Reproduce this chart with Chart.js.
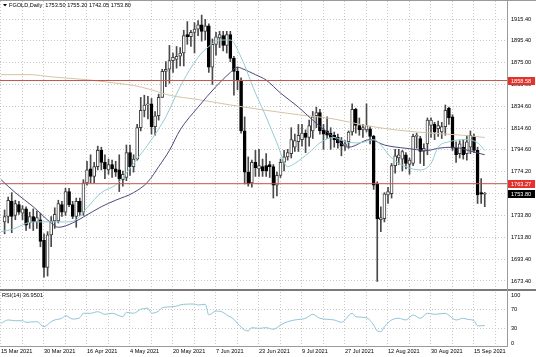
<!DOCTYPE html>
<html><head><meta charset="utf-8">
<script src="https://cdn.jsdelivr.net/npm/chart.js@4.4.1/dist/chart.umd.min.js"></script>
<style>html,body{margin:0;padding:0;background:#fff;overflow:hidden}canvas{display:block}</style>
</head><body>
<canvas id="c" width="536" height="357"></canvas>
<script>
// ---------- DATA ----------
const symbolName = 'FGOLD,Daily';
const dates = ['15 Mar','16 Mar','17 Mar','18 Mar','19 Mar','22 Mar','23 Mar','24 Mar','25 Mar','26 Mar','29 Mar','30 Mar','31 Mar',
'1 Apr','5 Apr','6 Apr','7 Apr','8 Apr','9 Apr','12 Apr','13 Apr','14 Apr','15 Apr','16 Apr','19 Apr','20 Apr','21 Apr','22 Apr','23 Apr','26 Apr','27 Apr','28 Apr','29 Apr','30 Apr',
'3 May','4 May','5 May','6 May','7 May','10 May','11 May','12 May','13 May','14 May','17 May','18 May','19 May','20 May','21 May','24 May','25 May','26 May','27 May','28 May','31 May',
'1 Jun','2 Jun','3 Jun','4 Jun','7 Jun','8 Jun','9 Jun','10 Jun','11 Jun','14 Jun','15 Jun','16 Jun','17 Jun','18 Jun','21 Jun','22 Jun','23 Jun','24 Jun','25 Jun','28 Jun','29 Jun','30 Jun',
'1 Jul','2 Jul','5 Jul','6 Jul','7 Jul','8 Jul','9 Jul','12 Jul','13 Jul','14 Jul','15 Jul','16 Jul','19 Jul','20 Jul','21 Jul','22 Jul','23 Jul','26 Jul','27 Jul','28 Jul','29 Jul','30 Jul',
'2 Aug','3 Aug','4 Aug','5 Aug','6 Aug','9 Aug','10 Aug','11 Aug','12 Aug','13 Aug','16 Aug','17 Aug','18 Aug','19 Aug','20 Aug','23 Aug','24 Aug','25 Aug','26 Aug','27 Aug','30 Aug','31 Aug',
'1 Sep','2 Sep','3 Sep','6 Sep','7 Sep','8 Sep','9 Sep','10 Sep','13 Sep','14 Sep','15 Sep','16 Sep','17 Sep','20 Sep'];
const year = '2021';

const open = [1728,1733,1747,1734,1744,1736,1740,1727,1733,1728,1730,1711,1686,
1716,1729,1729,1744,1737,1756,1744,1733,1747,1737,1764,1777,1770,1779,1794,1783,1776,1781,1777,1776,1767,
1769,1792,1779,1786,1815,1831,1836,1837,1816,1826,1843,1867,1869,1877,1878,1881,1884,1901,1899,1903,1906,
1910,1904,1909,1871,1892,1898,1900,1891,1901,1879,1867,1859,1812,1774,1764,1783,1777,1779,1780,1781,1779,1762,
1771,1783,1788,1791,1797,1802,1804,1810,1806,1812,1826,1829,1813,1812,1810,1808,1806,1803,1798,1802,1811,1832,
1817,1813,1813,1814,1807,1763,1730,1731,1753,1754,1780,1787,1786,1790,1781,1782,1807,1805,1793,1800,1817,1818,
1814,1811,1816,1833,1825,1796,1791,1797,1791,1797,1807,1794,1755,1753.50];
const high = [1739,1751,1755,1748,1747,1743,1742,1737,1740,1738,1736,1717,1719,
1733,1741,1748,1747,1759,1759,1747,1750,1750,1767,1784,1790,1783,1798,1797,1790,1786,1785,1784,1790,1775,
1799,1799,1790,1818,1843,1845,1844,1842,1830,1846,1869,1876,1891,1884,1890,1889,1905,1913,1905,1912,1914,
1919,1915,1911,1897,1903,1904,1904,1904,1904,1881,1871,1861,1825,1788,1785,1794,1795,1786,1791,1784,1781,1774,
1786,1794,1795,1815,1809,1818,1818,1813,1822,1830,1834,1832,1818,1825,1815,1811,1809,1806,1803,1812,1837,1833,
1824,1818,1837,1816,1808,1765,1742,1755,1760,1782,1795,1795,1794,1792,1787,1809,1810,1807,1800,1824,1824,1820,
1821,1820,1836,1834,1827,1802,1803,1804,1808,1812,1809,1797,1768,1755.20];
const low = [1717,1727,1718,1730,1735,1730,1720,1722,1720,1722,1705,1677,1678,
1705,1722,1727,1733,1734,1742,1731,1723,1734,1734,1762,1764,1764,1776,1776,1768,1772,1769,1770,1756,1761,
1766,1771,1774,1785,1812,1825,1823,1809,1808,1822,1843,1853,1856,1866,1870,1872,1872,1892,1890,1884,1900,
1895,1896,1866,1855,1882,1889,1886,1884,1876,1845,1850,1810,1763,1761,1760,1770,1770,1770,1770,1769,1750,1752,
1769,1775,1785,1787,1793,1793,1798,1792,1798,1805,1815,1809,1795,1805,1795,1797,1796,1789,1794,1796,1808,1810,
1808,1806,1811,1800,1758,1673,1719,1728,1745,1750,1773,1781,1775,1777,1772,1780,1796,1782,1780,1790,1806,1804,
1807,1805,1808,1818,1794,1783,1787,1786,1785,1791,1792,1745,1745,1742.05];
const close = [1733,1748,1733,1745,1737,1740,1725,1733,1728,1732,1710,1686,1716,
1729,1735,1745,1737,1756,1744,1733,1747,1737,1764,1776,1770,1779,1794,1783,1777,1781,1777,1774,1768,1772,
1792,1779,1786,1815,1831,1836,1837,1816,1826,1843,1867,1869,1877,1880,1881,1884,1900,1899,1903,1906,1910,
1904,1909,1871,1892,1899,1901,1891,1901,1879,1867,1859,1812,1774,1763,1783,1778,1780,1775,1775,1779,1762,1771,
1783,1788,1792,1804,1803,1808,1810,1806,1817,1825,1829,1812,1809,1808,1806,1804,1801,1798,1800,1811,1832,1817,
1813,1815,1817,1807,1762,1731,1732,1754,1756,1780,1789,1790,1793,1782,1785,1807,1808,1793,1796,1822,1822,1811,
1817,1816,1831,1824,1796,1790,1800,1790,1802,1808,1794,1753,1753.5,1753.80];

// moving averages (bar index, value)
const fastMaIdx = [-1,2,8,13,17,20,23,27,31,32,36,41,45,49,54,57,60,63,66,70,73,76,79,81,85,88,92,95,99,103,105,108,112,116,119,121,124,129,132,134];
const fastMaVal = [1719,1721,1728,1728,1728,1730,1741,1755,1762,1765,1782,1804,1825,1853,1880,1890,1896,1896,1880,1847,1825,1801,1779,1782,1792,1801,1806,1802,1801,1804,1799,1787,1779,1776,1782,1797,1802,1804,1801,1794];
const midMaIdx = [-1,3,8,13,15,19,22,27,31,36,40,43,46,49,54,59,63,65,66,70,73,77,82,87,92,96,102,106,112,118,121,125,131,134];
const midMaVal = [1767,1755,1742,1727,1723,1727,1732.5,1742,1748,1755,1765,1779,1794,1813,1834,1853,1866,1871,1870,1864,1859,1847,1834,1819,1806,1797,1804,1799,1796,1794,1796,1797,1792.5,1790];
const slowMaIdx = [-1,7,13,24,29,36,41,46,54,63,73,82,92,100,109,119,128,134];
const slowMaVal = [1864,1864,1862,1859,1857,1854,1850,1845,1841,1836,1831,1827,1823,1817.5,1813,1810,1808,1806];

// RSI(14)
const rsiIdx = [-1,1,3,5,6,9,11,13,14,16,17,19,21,22,24,26,28,30,33,34,36,38,40,41,43,44,47,50,53,54,56,57,59,61,62,64,65,67,68,69,71,73,75,77,79,81,84,86,88,92,94,97,98,101,103,104,105,106,108,110,112,114,116,118,120,123,124,126,128,129,131,132,133,134];
const rsiVal = [41.6,48.5,47,47,43.7,45,34.6,45,48.5,52,57.3,50.5,53.2,62.3,62.3,65.6,60.2,62.3,55.3,64.3,62.3,70.5,72.6,62.3,67,73.8,75.9,80.8,81.4,79.4,80.8,58.8,67,64.3,58.8,49.9,41.6,27.8,25.8,32.6,31.3,32.6,29.3,38.1,45,48.5,52,60.2,52,48.5,43.7,62.3,55.3,53.2,38.1,25.8,24.3,34.6,48.5,52,48.5,58.8,52,62.3,60.2,62.3,58,48.5,52,50,47,36.5,36.5,36.9501];

const levels = [1858.58, 1763.27];
const priceTicks = [1915.40,1895.40,1875.00,1855.00,1834.60,1814.60,1794.60,1774.20,1753.80,1733.80,1713.80,1693.40,1673.40];
const rsiTicks = [100,70,30,0];

// ---------- LAYOUT CONSTANTS ----------
const FONT = '"Liberation Sans", Arial, sans-serif';
const FS = 5.6;
const X_MIN = -1.279, X_MAX = 140.21;
const Y_MIN = 1665.08, Y_MAX = 1932.03;
const R_MIN = -5.15, R_MAX = 110.3;
const GRID = '#c8c8c8';

const n = close.length;
const up = close.map((c,i)=> c >= open[i]);
const wickData = high.map((h,i)=>({x:i, y:[low[i], h]}));
const bodyData = open.map((o,i)=>({x:i, y:[Math.min(o,close[i]), Math.max(o,close[i])]}));
const pts = (idx, val) => idx.map((x,k)=>({x, y: val[k]}));
const xTicks = [];
for (let v = -1; v <= X_MAX; v += 6) xTicks.push(v);

const noPad = s => { s.paddingTop = 0; s.paddingBottom = 0; s.paddingLeft = 0; s.paddingRight = 0; };

const deco = {
  id:'deco',
  beforeDraw(chart){
    const c = chart.ctx; c.save(); c.fillStyle='#fff'; c.fillRect(0,0,chart.width,chart.height); c.restore();
  },
  afterDraw(chart){
    const c = chart.ctx, a = chart.chartArea, ys = chart.scales.y;
    c.save();
    const sep = chart.scales.yR.top;
    c.fillStyle = '#7a7a7a'; c.fillRect(0, sep-1, chart.width, 2);
    c.fillStyle = '#9a9a9a';
    c.fillRect(0,0,chart.width,1);
    c.fillRect(a.right,0,1,a.bottom);
    c.fillRect(0,a.bottom,a.right+1,1);
    const boxes = [[levels[0],'#e2342c'],[levels[1],'#e2342c'],[close[n-1],'#000000']];
    c.font = FS+'px '+FONT; c.textBaseline='middle'; c.textAlign='left';
    boxes.forEach(([v,bg])=>{
      const y = Math.round(ys.getPixelForValue(v));
      c.fillStyle = bg; c.fillRect(a.right+1, y-4, 27, 8);
      c.fillStyle = '#fff'; c.fillText(v.toFixed(2), a.right+4, y);
    });
    c.fillStyle='#000';
    c.beginPath(); c.moveTo(3,4); c.lineTo(7,4); c.lineTo(5,6.5); c.closePath(); c.fill();
    c.fillText(symbolName+'  '+open[n-1].toFixed(2)+' '+high[n-1].toFixed(2)+' '+low[n-1].toFixed(2)+' '+close[n-1].toFixed(2), 9, 5.5);
    c.fillText('RSI(14) '+rsiVal[rsiVal.length-1].toFixed(4), 2, sep+5);
    c.restore();
  }
};

const tickFont = {family: FONT, size: FS};

new Chart(document.getElementById('c'), {
  type:'bar',
  data:{datasets:[
    {type:'line', data: pts([X_MIN,X_MAX],[levels[0],levels[0]]), xAxisID:'x', yAxisID:'y', borderColor:'#c0564a', borderWidth:1, pointRadius:0, order:0},
    {type:'line', data: pts([X_MIN,X_MAX],[levels[1],levels[1]]), xAxisID:'x', yAxisID:'y', borderColor:'#c0564a', borderWidth:1, pointRadius:0, order:0},
    {type:'line', data: pts(rsiIdx, rsiVal), xAxisID:'x', yAxisID:'yR', borderColor:'#8ec6d8', borderWidth:1, pointRadius:0, cubicInterpolationMode:'monotone', order:1},
    {type:'line', data: pts(fastMaIdx, fastMaVal), xAxisID:'x', yAxisID:'y', borderColor:'#95cdd3', borderWidth:1, pointRadius:0, cubicInterpolationMode:'monotone', order:2},
    {type:'line', data: pts(midMaIdx, midMaVal), xAxisID:'x', yAxisID:'y', borderColor:'#4a4a7c', borderWidth:1, pointRadius:0, cubicInterpolationMode:'monotone', order:2},
    {type:'line', data: pts(slowMaIdx, slowMaVal), xAxisID:'x', yAxisID:'y', borderColor:'#d8c3a5', borderWidth:1, pointRadius:0, cubicInterpolationMode:'monotone', order:3},
    {type:'bar', data: bodyData, xAxisID:'x', yAxisID:'y', barThickness:3, grouped:false, minBarLength:1,
      backgroundColor: up.map(u=>u?'#ffffff':'#000000'), borderColor: up.map(u=>u?'#404040':'#000000'), borderWidth:1, borderSkipped:false, order:4},
    {type:'bar', data: wickData, xAxisID:'x', yAxisID:'y', barThickness:1, grouped:false,
      backgroundColor:'#4a4a4a', borderWidth:0, order:5}
  ]},
  options:{
    responsive:false, animation:false, devicePixelRatio:1,
    layout:{padding:{top:1,left:0,right:0,bottom:0}},
    plugins:{legend:{display:false}, tooltip:{enabled:false}},
    scales:{
      x:{type:'linear', axis:'x', position:'bottom', min:X_MIN, max:X_MAX, offset:false,
        afterBuildTicks: s => { s.ticks = xTicks.map(v=>({value:v})); },
        afterFit: s => { s.height = 11; noPad(s); },
        ticks:{autoSkip:false, maxRotation:0, minRotation:0, align:'start', padding:2, font:tickFont, color:'#000',
          callback:(v)=>{ if (v === -1) return dates[0]+' '+year; if (v >= 11 && (v-11)%12===0 && v < n) return dates[v]+' '+year; return ''; }},
        grid:{color:GRID, lineWidth:1, drawTicks:false, offset:false},
        border:{display:false, dash:[1,2]}
      },
      y:{type:'linear', axis:'y', position:'right', stack:'p', stackWeight:289, min:Y_MIN, max:Y_MAX,
        afterBuildTicks: s => { s.ticks = priceTicks.map(v=>({value:v})); },
        afterFit: s => { s.width = 29; noPad(s); },
        ticks:{padding:4, autoSkip:false, font:tickFont, color:'#000', callback:v=>Number(v).toFixed(2)},
        grid:{color:GRID, lineWidth:1, drawTicks:false},
        border:{display:false, dash:[1,2]}
      },
      yR:{type:'linear', axis:'y', position:'right', stack:'p', stackWeight:56, min:R_MIN, max:R_MAX,
        afterBuildTicks: s => { s.ticks = rsiTicks.map(v=>({value:v})); },
        afterFit: s => { s.width = 29; noPad(s); },
        ticks:{padding:4, autoSkip:false, font:tickFont, color:'#000', callback:v=>String(v)},
        grid:{color:(ctx)=> (ctx.tick && (ctx.tick.value===70 || ctx.tick.value===30)) ? GRID : 'rgba(0,0,0,0)', lineWidth:1, drawTicks:false},
        border:{display:false, dash:[1,2]}
      }
    }
  },
  plugins:[deco]
});
</script>
</body></html>
